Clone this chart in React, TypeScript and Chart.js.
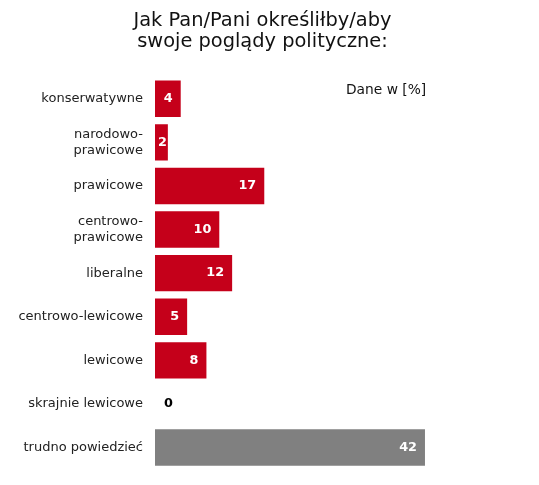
import React, { useEffect, useRef } from "react";
import { Chart, registerables } from "chart.js";

Chart.register(...registerables);

const categories: (string | string[])[] = [
  "konserwatywne",
  ["narodowo-", "prawicowe"],
  "prawicowe",
  ["centrowo-", "prawicowe"],
  "liberalne",
  "centrowo-lewicowe",
  "lewicowe",
  "skrajnie lewicowe",
  "trudno powiedzieć",
];
const values: number[] = [4, 2, 17, 10, 12, 5, 8, 0, 42];
const barColors: string[] = [
  "#c5001a", "#c5001a", "#c5001a", "#c5001a", "#c5001a",
  "#c5001a", "#c5001a", "#c5001a", "#808080",
];
const titleLines: string[] = ["Jak Pan/Pani określiłby/aby", "swoje poglądy polityczne:"];
const noteText = "Dane w [%]";

const FONT = "'DejaVu Sans', Verdana, sans-serif";

const labelPlugin = {
  id: "valueLabels",
  afterDatasetsDraw(chart: any) {
    const ctx = chart.ctx;
    const meta = chart.getDatasetMeta(0);
    ctx.save();
    ctx.font = `bold 12.8px ${FONT}`;
    ctx.textBaseline = "middle";
    meta.data.forEach((bar: any, i: number) => {
      const v = values[i];
      const txt = String(v);
      const w = ctx.measureText(txt).width;
      if (v === 0) {
        ctx.fillStyle = "#000";
        ctx.textAlign = "left";
        ctx.fillText(txt, bar.base + 9, bar.y);
      } else {
        ctx.fillStyle = "#fff";
        ctx.textAlign = "right";
        const x = Math.max(bar.x - 8, bar.base + 3 + w);
        ctx.fillText(txt, x, bar.y);
      }
    });
    // note
    ctx.font = `13.8px ${FONT}`;
    ctx.fillStyle = "#111";
    ctx.textAlign = "left";
    ctx.textBaseline = "alphabetic";
    ctx.fillText(noteText, 338, 86);
    // title
    ctx.font = `19.4px ${FONT}`;
    ctx.textAlign = "center";
    ctx.fillText(titleLines[0], 254.5, 18);
    ctx.fillText(titleLines[1], 254.5, 38.7);
    ctx.restore();
  },
};

export default function App() {
  const ref = useRef<HTMLCanvasElement | null>(null);
  useEffect(() => {
    if (!ref.current) return;
    const chart = new Chart(ref.current, {
      type: "bar",
      data: {
        labels: categories,
        datasets: [
          {
            data: values,
            backgroundColor: barColors,
            borderWidth: 0,
            barPercentage: 0.835,
            categoryPercentage: 1,
          },
        ],
      },
      options: {
        indexAxis: "y",
        animation: false,
        responsive: false,
        devicePixelRatio: 1,
        layout: { padding: { left: 0, right: 54.6, top: 69, bottom: 7.7 } },
        plugins: {
          legend: { display: false },
          tooltip: { enabled: false },
          title: { display: false },
        },
        scales: {
          x: { display: false, min: 0, max: 50 },
          y: {
            grid: { display: false, drawTicks: false },
            border: { display: false },
            ticks: {
              color: "#222",
              padding: 12,
              font: { family: FONT, size: 13, lineHeight: 1.25 },
            },
            afterFit: (scale: any) => {
              scale.width = 147;
              scale.paddingTop = 0;
              scale.paddingBottom = 0;
            },
          },
        },
      },
      plugins: [labelPlugin],
    });
    return () => chart.destroy();
  }, []);
  return <canvas ref={ref} width={523} height={469} style={{ display: "block" }} />;
}
